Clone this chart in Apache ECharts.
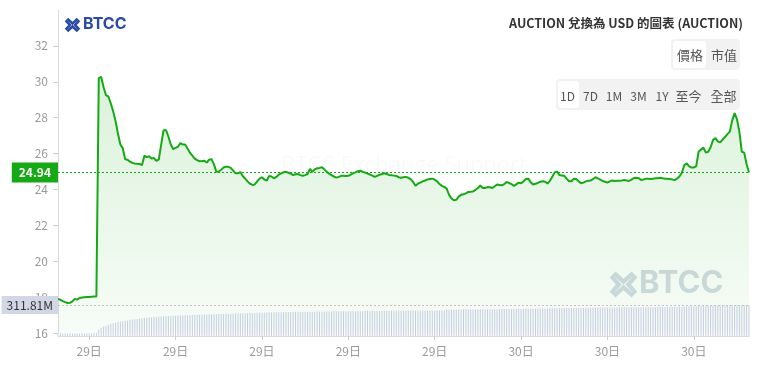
<!DOCTYPE html>
<html><head><meta charset="utf-8">
<script src="https://cdn.jsdelivr.net/npm/echarts@6/dist/echarts.min.js"></script>
<style>html,body{margin:0;padding:0;background:#fff}#c{width:762px;height:368px}</style>
</head><body><div id="c"></div>
<script>
// ---- data (5-minute points, 29日 07:55 → 30日 07:55) ----
const priceValues = [
17.90,17.85,17.78,17.72,17.67,17.68,17.76,17.90,17.86,17.95,
17.98,17.99,18.00,18.01,18.02,18.03,18.04,30.20,30.27,29.70,
29.25,29.18,28.80,28.35,27.80,27.10,26.50,26.30,25.68,25.65,
25.55,25.48,25.45,25.43,25.42,25.35,25.88,25.80,25.85,25.72,
25.75,25.60,25.66,26.50,27.30,27.30,26.95,26.50,26.25,26.32,
26.38,26.58,26.50,26.50,26.28,26.05,25.88,25.72,25.63,25.57,
25.58,25.60,25.50,25.66,25.68,25.40,24.98,25.00,25.10,25.22,
25.27,25.26,25.20,25.05,24.90,24.90,24.97,24.75,24.60,24.45,
24.32,24.25,24.28,24.45,24.60,24.68,24.55,24.50,24.75,24.72,
24.62,24.70,24.82,24.90,24.96,24.98,24.93,24.88,24.80,24.85,
24.86,24.80,24.76,24.80,24.86,25.14,24.98,25.12,25.18,25.20,
25.24,25.12,24.98,24.88,24.80,24.72,24.66,24.70,24.76,24.76,
24.75,24.76,24.83,24.90,24.95,25.02,25.04,24.98,24.94,24.88,
24.83,24.77,24.70,24.76,24.82,24.86,24.90,24.86,24.81,24.79,
24.77,24.75,24.68,24.65,24.68,24.70,24.65,24.58,24.42,24.20,
24.32,24.38,24.45,24.50,24.56,24.58,24.60,24.55,24.45,24.30,
24.20,24.14,24.05,23.70,23.50,23.40,23.42,23.60,23.70,23.73,
23.78,23.86,23.87,23.89,23.98,24.08,24.22,24.08,24.08,24.13,
24.12,24.08,24.18,24.27,24.25,24.23,24.30,24.42,24.36,24.30,
24.20,24.28,24.38,24.34,24.45,24.58,24.60,24.40,24.28,24.32,
24.36,24.43,24.46,24.43,24.33,24.48,24.70,24.95,25.00,24.80,
24.78,24.76,24.60,24.46,24.46,24.60,24.58,24.45,24.34,24.38,
24.45,24.48,24.50,24.58,24.68,24.62,24.55,24.47,24.43,24.38,
24.45,24.50,24.47,24.48,24.49,24.50,24.52,24.50,24.47,24.55,
24.64,24.65,24.63,24.53,24.55,24.60,24.60,24.58,24.60,24.62,
24.63,24.65,24.62,24.60,24.60,24.58,24.56,24.52,24.60,24.72,
24.92,25.35,25.45,25.30,25.22,25.22,25.30,26.10,26.22,26.33,
26.05,26.10,26.35,26.75,26.86,26.68,26.62,26.78,26.92,27.08,
27.22,27.85,28.25,27.90,27.20,26.10,26.05,25.40,24.94
];
const volumeMillions = [
26,27,26,27,28,27,26,27,28,27,
27,28,28,27,28,29,35,62,84,95,
103,112,122,128,134,140,145,149,153,157,
163,166,169,172,175,178,180,183,185,187,
190,192,194,196,198,199,200,202,203,204,
205,206,207,208,209,210,211,212,213,214,
215,216,217,218,218,219,220,221,221,222,
223,224,224,225,226,227,228,228,229,230,
231,231,232,233,233,234,235,235,236,237,
238,238,239,239,240,241,241,242,242,243,
243,243,244,244,244,245,245,245,246,246,
246,247,247,247,247,248,248,248,248,249,
249,249,249,250,250,250,250,250,251,251,
251,251,251,252,252,252,252,252,252,253,
253,253,253,253,253,254,254,254,254,254,
254,255,255,255,255,255,255,255,256,256,
256,256,266,266,267,267,267,267,267,268,
268,268,268,268,269,269,269,269,269,270,
270,270,270,270,271,271,271,271,271,271,
272,272,272,272,273,273,273,274,274,275,
275,276,276,277,277,278,278,279,279,280,
280,281,281,281,282,282,282,283,283,283,
284,284,284,285,285,285,286,286,286,286,
287,287,287,287,288,288,288,288,288,289,
289,289,289,289,290,290,290,290,290,290,
291,291,291,291,291,292,292,292,292,293,
294,296,297,298,299,300,301,302,303,304,
305,305,306,306,307,307,308,308,309,309,
309,310,310,311,311,311,311.5,311.7,311.81
];
const startDay = 29, startHour = 7, startMinute = 55, stepMinutes = 5;
const lastPrice = 24.94, lastPriceText = '24.94';
const lastVolume = 311.81, lastVolumeText = '311.81M';
const yTickLabels = [16,18,20,22,24,26,28,30,32];
const titleText = 'AUCTION 兌換為 USD 的圖表 (AUCTION)';
const toggleA = ['價格','市值'];
const rangeButtons = ['1D','7D','1M','3M','1Y','至今','全部'];

// ---- categories ----
const categories = [];
for (let i = 0; i < priceValues.length; i++) {
  let m = startHour * 60 + startMinute + i * stepMinutes;
  const day = startDay + Math.floor(m / 1440);
  m = m % 1440;
  const hh = String(Math.floor(m / 60)).padStart(2, '0');
  const mm = String(m % 60).padStart(2, '0');
  categories.push(day + '日 ' + hh + ':' + mm);
}
const isLabelIdx = (idx) => {
  const t = categories[idx].split(' ')[1];
  return t.endsWith(':00') && (parseInt(t, 10) % 3 === 0);
};

const FONT = "'Noto Sans CJK TC','Noto Sans',sans-serif";
const GREEN = '#15aa15';

function chevrons(cx, cy, s, color, w) {
  const pts = [
    [[-5,-6],[0,-1.5],[5,-6]],
    [[-5,6],[0,1.5],[5,6]],
    [[-6.5,-4.5],[-2.5,0],[-6.5,4.5]],
    [[6.5,-4.5],[2.5,0],[6.5,4.5]]
  ];
  return pts.map(p => ({
    type: 'polyline', silent: true, z: 50,
    shape: { points: p.map(q => [cx + q[0]*s, cy + q[1]*s]) },
    style: { stroke: color, lineWidth: w, fill: null, lineJoin: 'miter' }
  }));
}

const graphics = [];
graphics.push(...chevrons(72.5, 25, 1.05, '#2a4ba3', 2.6));
graphics.push({ type:'text', left: 83, top: 16, silent:true, z:50,
  style:{ text:'BTCC', font:"bold 16px Inter, 'Open Sans', sans-serif", fill:'#2a4ba3' } });
// watermarks
graphics.push({ type:'text', x: 404, y: 166, silent:true, z:1,
  style:{ text:'BTCC Exchange Support', font:"22px 'Open Sans', sans-serif", fill:'rgba(0,0,0,0.025)', align:'center', verticalAlign:'middle' } });
graphics.push(...chevrons(623.5, 284.5, 1.9, 'rgba(150,166,188,0.42)', 4.2).map(g => (g.z = 1, g)));
graphics.push({ type:'text', x: 639, y: 284, silent:true, z:1,
  style:{ text:'BTCC', font:"bold 31px Inter, 'Open Sans', sans-serif", fill:'rgba(150,166,188,0.42)', verticalAlign:'middle' } });
// title
graphics.push({ type:'text', x: 743, y: 23, silent:true, z:50,
  style:{ text: titleText, font:"bold 12.5px " + FONT, fill:'#333', align:'right', verticalAlign:'middle' } });
// toggle group
graphics.push({ type:'rect', silent:true, z:40, shape:{ x:671, y:39, width:69, height:31, r:4 }, style:{ fill:'#f2f2f2' } });
graphics.push({ type:'rect', silent:true, z:41, shape:{ x:673, y:41, width:33, height:27, r:3 }, style:{ fill:'#ffffff' } });
[690, 724].forEach((cx, k) => graphics.push({ type:'text', x:cx, y:55, silent:true, z:42,
  style:{ text: toggleA[k], font:"13px " + FONT, fill:'#555', align:'center', verticalAlign:'middle' } }));
// range group
graphics.push({ type:'rect', silent:true, z:40, shape:{ x:556, y:79, width:184, height:31, r:4 }, style:{ fill:'#f2f2f2' } });
graphics.push({ type:'rect', silent:true, z:41, shape:{ x:558, y:81, width:21, height:27, r:3 }, style:{ fill:'#ffffff' } });
[567.5, 590.5, 614, 638.5, 662, 688.5, 723.5].forEach((cx, k) => graphics.push({ type:'text', x:cx, y:96, silent:true, z:42,
  style:{ text: rangeButtons[k], font:(k < 5 ? "12px " : "13px ") + FONT, fill:'#555', align:'center', verticalAlign:'middle' } }));

const chart = echarts.init(document.getElementById('c'), null, { renderer: 'canvas' });
chart.setOption({
  animation: false,
  textStyle: { fontFamily: FONT },
  grid: [
    { left: 58, right: 13, top: 10, bottom: 35 },
    { left: 58, right: 13, top: 10, bottom: 32 }
  ],
  xAxis: [
    { type:'category', gridIndex:0, data: categories, boundaryGap:false, offset:3,
      axisLine:{ lineStyle:{ color:'#dcdcdc' } },
      axisTick:{ interval: isLabelIdx, length:4, lineStyle:{ color:'#d0d0d0' } },
      axisLabel:{ interval: isLabelIdx, formatter: v => v.split(' ')[0], color:'#9a9a9a', fontSize:12, margin:9, fontFamily: FONT },
      splitLine:{ show:false } },
    { type:'category', gridIndex:1, data: categories, boundaryGap:false, show:false }
  ],
  yAxis: [
    { type:'value', gridIndex:0, min: yTickLabels[0], max: 34, interval: 2,
      axisLine:{ show:true, lineStyle:{ color:'#dcdcdc' } },
      axisTick:{ show:true, length:5, lineStyle:{ color:'#cfcfcf' } },
      axisLabel:{ color:'#9a9a9a', fontSize:12, margin:10, showMaxLabel:false, fontFamily: FONT,
        formatter: v => (yTickLabels.indexOf(v) >= 0 ? String(v) : '') },
      splitLine:{ show:false } },
    { type:'value', gridIndex:1, min:0, max: 3279, show:false, splitLine:{ show:false } }
  ],
  series: [
    { type:'bar', name:'volume', xAxisIndex:1, yAxisIndex:1, data: volumeMillions, barWidth:1, z:3,
      itemStyle:{ color:'#c6cde1' }, silent:true,
      markLine:{ silent:true, symbol:'none', z:5,
        lineStyle:{ color:'#c2c2c2', type:[2,2], width:1 },
        label:{ position:'start', distance:0, formatter: lastVolumeText, color:'#333', fontSize:12, fontFamily: FONT,
          backgroundColor:'#d1d7e4', padding:[3,5,3,5] },
        data:[{ yAxis: lastVolume }] } },
    { type:'line', name:'price', xAxisIndex:0, yAxisIndex:0, data: priceValues, showSymbol:false, z:2,
      lineStyle:{ color: GREEN, width:2 },
      areaStyle:{ color: new echarts.graphic.LinearGradient(0,0,0,1,[
        { offset:0, color:'rgba(21,170,21,0.22)' }, { offset:1, color:'rgba(21,170,21,0.05)' }]) },
      markLine:{ silent:true, symbol:'none', z:6,
        lineStyle:{ color: GREEN, type:[2,2], width:1 },
        label:{ position:'start', distance:0, formatter: lastPriceText, color:'#fff', fontWeight:'bold', fontSize:12, fontFamily: FONT,
          backgroundColor: GREEN, padding:[4,7,4,7] },
        data:[{ yAxis: lastPrice }] } }
  ],
  graphic: graphics
});
</script></body></html>
